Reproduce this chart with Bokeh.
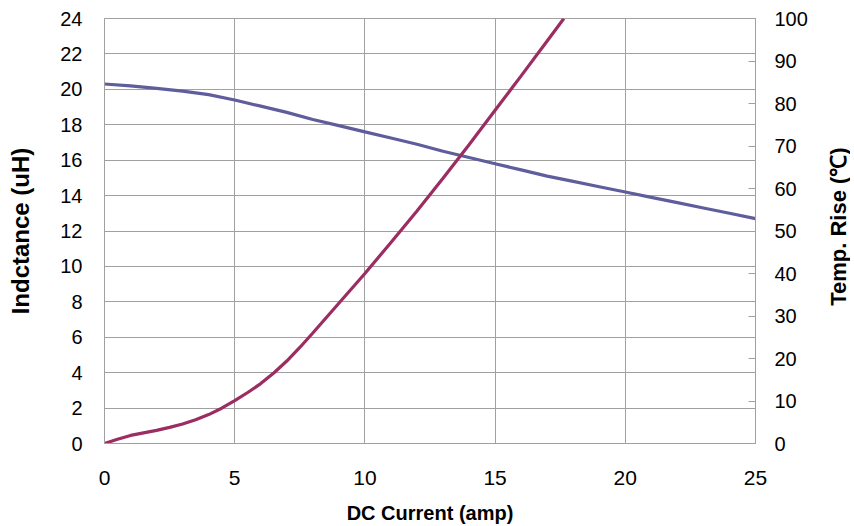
import math
from bokeh.plotting import figure
from bokeh.layouts import row
from bokeh.models import Range1d, LinearAxis, FixedTicker
from bokeh.core.properties import value
from bokeh.embed import file_html
from bokeh.resources import INLINE

# Inductance (uH) vs DC current (amp)
current_l = [0, 1, 2, 3, 4, 5, 6, 7, 8, 9, 10, 11, 12, 13, 14, 15, 16, 17, 18, 19, 20, 21, 22, 23, 24, 25]
inductance = [20.3, 20.2, 20.05, 19.9, 19.7, 19.4, 19.05, 18.7, 18.3, 17.95, 17.6, 17.25, 16.9, 16.5,
              16.15, 15.8, 15.45, 15.1, 14.8, 14.5, 14.2, 13.9, 13.6, 13.3, 13.0, 12.7]

# Temperature rise (C) vs DC current (amp)
current_t = [0, 0.5, 1, 1.5, 2, 2.5, 3, 3.5, 4, 4.5, 5, 5.5, 6, 6.5, 7, 7.5, 8, 9, 10, 11, 12, 13, 14,
             15, 16, 17, 17.64]
temp_rise = [0, 1.0, 1.9, 2.5, 3.1, 3.8, 4.6, 5.6, 6.8, 8.3, 10.1, 12.0, 14.1, 16.6, 19.4, 22.6, 26.0,
             33.0, 40.0, 47.3, 54.7, 62.4, 70.3, 78.4, 86.5, 94.7, 100]

x_ticks = [0, 5, 10, 15, 20, 25]
left_ticks = [0, 2, 4, 6, 8, 10, 12, 14, 16, 18, 20, 22, 24]
right_ticks = [0, 10, 20, 30, 40, 50, 60, 70, 80, 90, 100]
right_title = "Temp. Rise (\u2103)"

FONT = "Liberation Sans"
GRID = "#a0a0a0"

p = figure(frame_width=651, frame_height=425, output_backend="svg", toolbar_location=None,
           x_range=Range1d(0, 25), y_range=Range1d(0, 24))
p.min_border_left = 104
p.min_border_right = 71
p.min_border_top = 18
p.min_border_bottom = 10
p.outline_line_color = GRID
p.background_fill_color = "white"
p.border_fill_color = "white"

p.extra_y_ranges = {"temp": Range1d(0, 100)}

p.line(current_l, inductance, line_color="#5e5e9c", line_width=3.2)
p.line(current_t, temp_rise, line_color="#9b2d62", line_width=3.2, y_range_name="temp")

# grid
p.xgrid.ticker = FixedTicker(ticks=x_ticks)
p.ygrid.ticker = FixedTicker(ticks=left_ticks)
p.xgrid.grid_line_color = GRID
p.ygrid.grid_line_color = GRID

# x axis
xa = p.xaxis[0]
xa.ticker = FixedTicker(ticks=x_ticks)
xa.axis_label = "DC Current (amp)"
xa.axis_line_color = GRID
xa.major_tick_line_color = None
xa.minor_tick_line_color = None
xa.major_label_standoff = 21
xa.axis_label_standoff = 14
xa.major_label_text_font = FONT
xa.major_label_text_font_size = "21px"
xa.major_label_text_color = "black"
xa.axis_label_text_font = FONT
xa.axis_label_text_font_size = "20px"
xa.axis_label_text_font_style = "bold"
xa.axis_label_text_color = "black"

# left axis
ya = p.yaxis[0]
ya.ticker = FixedTicker(ticks=left_ticks)
ya.axis_label = "Indctance (uH)"
ya.axis_line_color = GRID
ya.major_tick_line_color = None
ya.minor_tick_line_color = None
ya.major_label_standoff = 16
ya.axis_label_standoff = 23
ya.major_label_text_font = FONT
ya.major_label_text_font_size = "20px"
ya.major_label_text_color = "black"
ya.axis_label_text_font = FONT
ya.axis_label_text_font_size = "24px"
ya.axis_label_text_font_style = "bold"
ya.axis_label_text_color = "black"

# right axis
ra = LinearAxis(y_range_name="temp", ticker=FixedTicker(ticks=right_ticks))
ra.axis_line_color = GRID
ra.major_tick_in = 7
ra.major_tick_out = 0
ra.major_tick_line_color = GRID
ra.minor_tick_line_color = None
ra.major_label_standoff = 19
ra.major_label_text_font = FONT
ra.major_label_text_font_size = "20px"
ra.major_label_text_color = "black"
p.add_layout(ra, "right")

# narrow companion panel carrying the right-axis title (reads bottom to top)
p2 = figure(width=24, frame_height=425, output_backend="svg", toolbar_location=None,
            x_range=Range1d(0, 1), y_range=Range1d(0, 24))
p2.min_border_left = 0
p2.min_border_right = 0
p2.min_border_top = 18
p2.min_border_bottom = 0
p2.axis.visible = False
p2.grid.visible = False
p2.outline_line_color = None
p2.background_fill_color = "white"
p2.border_fill_color = "white"
p2.text(x=[0.5], y=[12.25], text=[right_title], angle=math.pi / 2,
        text_align="center", text_baseline="middle", text_font=value(FONT),
        text_font_size=value("22px"), text_font_style="bold", text_color="black")

layout = row(p, p2, spacing=0)
open("out.html", "w").write(file_html(layout, INLINE))
